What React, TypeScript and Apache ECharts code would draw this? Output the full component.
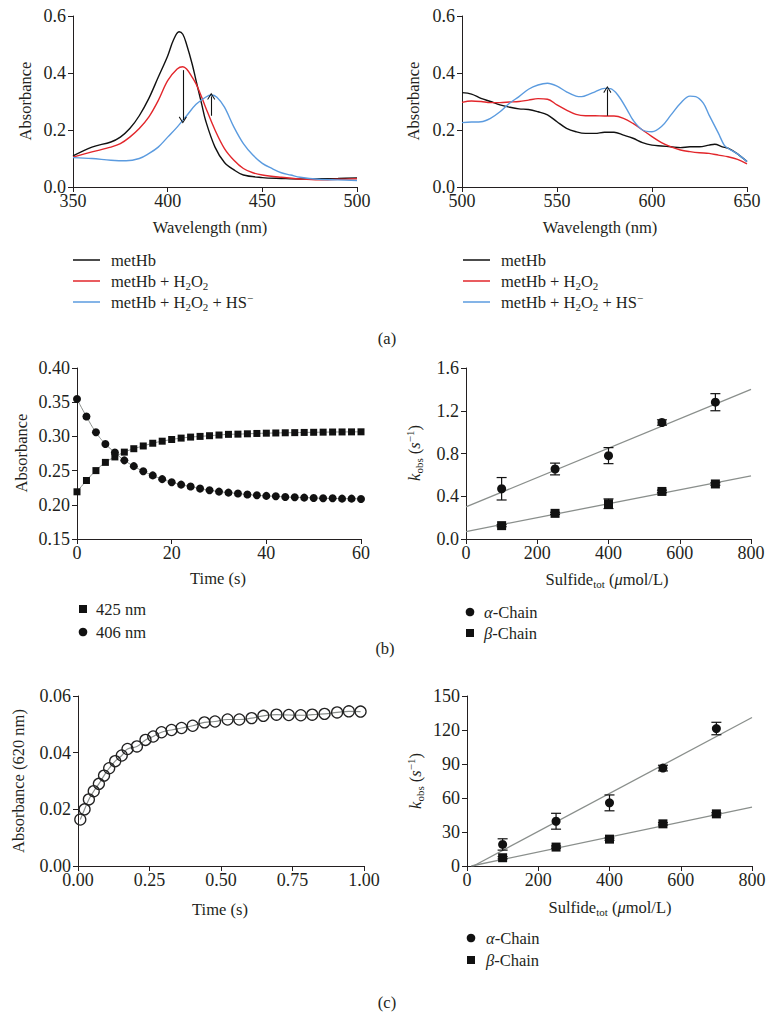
import React, { useEffect, useRef } from "react";
import * as echarts from "echarts";

const FONT = "Liberation Serif";
const INK = "#231f20";
const BLACK = "#111111";
const RED = "#e2262b";
const BLUE = "#5b9bdf";
const GRAY = "#8a8f8c";

// ---------- Panel (a) left: Soret region ----------
const metHbSoret = [[350,0.109],[360,0.14],[370,0.158],[375,0.175],[380,0.205],[385,0.25],[390,0.31],[395,0.385],[400,0.46],[403,0.515],[406,0.545],[408,0.536],[410,0.5],[413,0.43],[415,0.373],[418,0.29],[420,0.234],[425,0.14],[430,0.086],[435,0.06],[440,0.042],[450,0.033],[460,0.03],[470,0.028],[480,0.029],[490,0.03],[500,0.032]];
const h2o2Soret = [[350,0.105],[360,0.123],[370,0.14],[375,0.152],[380,0.175],[385,0.205],[390,0.245],[395,0.303],[400,0.373],[405,0.414],[408,0.422],[410,0.414],[413,0.385],[415,0.362],[418,0.315],[420,0.28],[425,0.2],[430,0.135],[435,0.094],[440,0.065],[445,0.05],[450,0.042],[460,0.034],[470,0.028],[480,0.025],[490,0.027],[500,0.029]];
const hsSoret = [[350,0.103],[360,0.1],[370,0.094],[378,0.092],[385,0.1],[390,0.117],[395,0.14],[400,0.175],[405,0.21],[410,0.25],[415,0.29],[420,0.315],[423,0.323],[426,0.315],[430,0.28],[435,0.21],[440,0.152],[445,0.112],[450,0.083],[455,0.065],[460,0.05],[465,0.042],[470,0.034],[480,0.027],[490,0.025],[500,0.023]];
const arrowsSoret = [[408, 0.41, 0.235], [423, 0.25, 0.318]];

// ---------- Panel (a) right: visible region ----------
const metHbVis = [[500,0.331],[505,0.326],[510,0.311],[515,0.3],[520,0.288],[525,0.28],[530,0.274],[535,0.272],[540,0.264],[545,0.253],[550,0.229],[555,0.206],[560,0.194],[565,0.188],[570,0.188],[575,0.192],[580,0.192],[585,0.182],[590,0.171],[595,0.156],[600,0.147],[605,0.144],[610,0.141],[615,0.138],[620,0.141],[625,0.141],[630,0.147],[633,0.15],[637,0.141],[640,0.136],[645,0.116],[650,0.089]];
const h2o2Vis = [[500,0.297],[505,0.302],[510,0.3],[515,0.296],[520,0.296],[525,0.298],[530,0.3],[535,0.305],[540,0.31],[545,0.308],[550,0.288],[555,0.27],[560,0.255],[565,0.25],[570,0.25],[575,0.249],[580,0.249],[585,0.241],[590,0.223],[595,0.2],[600,0.177],[605,0.156],[610,0.141],[615,0.13],[620,0.124],[625,0.12],[630,0.118],[635,0.112],[640,0.106],[645,0.097],[650,0.081]];
const hsVis = [[500,0.226],[505,0.228],[510,0.229],[515,0.241],[520,0.264],[525,0.294],[530,0.317],[535,0.343],[540,0.358],[545,0.364],[550,0.354],[555,0.334],[560,0.319],[563,0.317],[567,0.326],[570,0.334],[575,0.346],[578,0.345],[582,0.323],[587,0.27],[590,0.235],[595,0.2],[600,0.194],[605,0.212],[610,0.253],[615,0.294],[620,0.319],[623,0.317],[627,0.294],[630,0.253],[635,0.188],[638,0.147],[640,0.136],[645,0.116],[650,0.089]];
const arrowsVis = [[576.5, 0.25, 0.342]];

// ---------- Panel (b) left: time course ----------
const timeB = [0,2,4,6,8,10,12,14,16,18,20,22,24,26,28,30,32,34,36,38,40,42,44,46,48,50,52,54,56,58,60];
const abs425 = [0.219,0.2355,0.25,0.262,0.27,0.277,0.282,0.286,0.29,0.293,0.2955,0.2975,0.299,0.3,0.301,0.302,0.303,0.3033,0.3038,0.3043,0.3047,0.305,0.3053,0.3055,0.3058,0.306,0.3062,0.3064,0.3065,0.3066,0.3067];
const abs406 = [0.3546,0.329,0.306,0.289,0.2765,0.265,0.2565,0.249,0.243,0.2375,0.233,0.2295,0.2267,0.2237,0.2213,0.2193,0.2178,0.2164,0.215,0.214,0.213,0.2125,0.2115,0.211,0.2105,0.21,0.2096,0.2095,0.209,0.209,0.2086];

// ---------- Panel (b) right: kobs vs sulfide ----------
const sulfide = [100, 250, 400, 550, 700];
const alphaKB = [0.47, 0.655, 0.78, 1.09, 1.28];
const alphaErrB = [0.105, 0.055, 0.075, 0.025, 0.08];
const betaKB = [0.125, 0.24, 0.33, 0.445, 0.515];
const betaErrB = [0.01, 0.01, 0.045, 0.012, 0.012];
const alphaFitB = [[0, 0.3], [800, 1.4]];
const betaFitB = [[0, 0.07], [800, 0.59]];

// ---------- Panel (c) left: stopped flow 620 nm ----------
const timeC = [0.008,0.023,0.038,0.055,0.073,0.091,0.109,0.13,0.153,0.173,0.206,0.236,0.263,0.292,0.327,0.362,0.401,0.442,0.479,0.523,0.564,0.607,0.648,0.694,0.737,0.779,0.819,0.862,0.906,0.947,0.988];
const abs620 = [0.0164,0.02,0.0235,0.0264,0.029,0.0319,0.0345,0.037,0.039,0.0413,0.0422,0.0445,0.0457,0.0472,0.048,0.0487,0.0495,0.0507,0.051,0.0517,0.0517,0.0522,0.053,0.0534,0.0533,0.0532,0.0534,0.0537,0.0542,0.0546,0.0545];

// ---------- Panel (c) right: kobs vs sulfide ----------
const alphaKC = [19, 39.5, 55.7, 86.4, 121.3];
const alphaErrC = [5, 7, 7, 2.5, 5.5];
const betaKC = [7.3, 16.7, 23.7, 37.2, 46];
const betaErrC = [1, 1, 1, 1, 1];
const alphaFitC = [[18, 0], [800, 131]];
const betaFitC = [[12, 0], [800, 52]];

const CHEVRON = "path://M5,0 L10,8.5 L9,9.5 L5,2.4 L1,9.5 L0,8.5 Z";

function axisBase(gridIndex: number, min: number, max: number, interval: number, digits: number, margin: number) {
  return {
    type: "value",
    gridIndex,
    min,
    max,
    interval,
    axisLine: { show: true, onZero: false, lineStyle: { color: INK, width: 1 } },
    axisTick: { show: true, inside: false, length: 5, lineStyle: { color: INK, width: 1 } },
    splitLine: { show: false },
    axisLabel: {
      color: INK,
      fontFamily: FONT,
      fontSize: 18,
      margin,
      formatter: (v: number) => v.toFixed(digits),
    },
  };
}

function spectrum(name: string, data: number[][], color: string, idx: number, arrows?: number[][]) {
  const s: any = {
    name,
    type: "line",
    xAxisIndex: idx,
    yAxisIndex: idx,
    data,
    showSymbol: false,
    smooth: 0.35,
    lineStyle: { color, width: 1.4 },
    itemStyle: { color },
    z: 3,
  };
  if (arrows) {
    s.markLine = {
      silent: true,
      symbol: ["none", CHEVRON],
      symbolSize: [8, 7],
      label: { show: false },
      lineStyle: { color: BLACK, width: 1.1, type: "solid" },
      data: arrows.map((a) => [{ coord: [a[0], a[1]] }, { coord: [a[0], a[2]] }]),
    };
  }
  return s;
}

function errorBars(idx: number, ks: number[], errs: number[]) {
  return {
    type: "custom",
    xAxisIndex: idx,
    yAxisIndex: idx,
    data: sulfide.map((x, i) => [x, ks[i], errs[i]]),
    renderItem: (params: any, api: any) => {
      const x = api.value(0);
      const y = api.value(1);
      const e = api.value(2);
      const top = api.coord([x, y + e]);
      const bot = api.coord([x, y - e]);
      const w = 5;
      const st = { stroke: BLACK, lineWidth: 1.2 };
      return {
        type: "group",
        children: [
          { type: "line", shape: { x1: top[0], y1: top[1], x2: bot[0], y2: bot[1] }, style: st },
          { type: "line", shape: { x1: top[0] - w, y1: top[1], x2: top[0] + w, y2: top[1] }, style: st },
          { type: "line", shape: { x1: bot[0] - w, y1: bot[1], x2: bot[0] + w, y2: bot[1] }, style: st },
        ],
      };
    },
    z: 4,
  };
}

function fitLine(idx: number, data: number[][]) {
  return {
    type: "line",
    xAxisIndex: idx,
    yAxisIndex: idx,
    data,
    showSymbol: false,
    lineStyle: { color: GRAY, width: 1.3 },
    z: 2,
  };
}

function pts(idx: number, ks: number[], symbol: string, size: number) {
  return {
    type: "scatter",
    xAxisIndex: idx,
    yAxisIndex: idx,
    data: sulfide.map((x, i) => [x, ks[i]]),
    symbol,
    symbolSize: size,
    itemStyle: { color: BLACK, opacity: 1 },
    z: 5,
  };
}

const FS = 16.5;
const RICH = {
  n: { fontFamily: FONT, fontSize: FS, lineHeight: 20, color: INK },
  i: { fontFamily: FONT, fontSize: FS, lineHeight: 20, fontStyle: "italic", color: INK },
  sub: { fontFamily: FONT, fontSize: 11, lineHeight: 10, verticalAlign: "bottom", color: INK },
  sup: { fontFamily: FONT, fontSize: 11, lineHeight: 10, verticalAlign: "top", color: INK },
};

function txt(x: number, y: number, text: string, align = "center", rotate = false) {
  return {
    type: "text",
    x,
    y,
    rotation: rotate ? Math.PI / 2 : 0,
    silent: true,
    style: {
      text,
      rich: RICH,
      fontFamily: FONT,
      fontSize: FS,
      fill: INK,
      align,
      verticalAlign: "middle",
    },
  };
}

function legendLine(x: number, y: number, color: string, label: string) {
  return [
    { type: "line", silent: true, shape: { x1: x, y1: y, x2: x + 27, y2: y }, style: { stroke: color, lineWidth: 1.5 } },
    txt(x + 38, y, label, "left"),
  ];
}

function legendSym(x: number, y: number, kind: string, label: string, tx: number) {
  const sym =
    kind === "circle"
      ? { type: "circle", silent: true, shape: { cx: x, cy: y, r: 4.3 }, style: { fill: BLACK } }
      : { type: "rect", silent: true, shape: { x: x - 4, y: y - 4, width: 8, height: 8 }, style: { fill: BLACK } };
  return [sym, txt(tx, y, label, "left")];
}

const L1 = "{n|metHb}";
const L2 = "{n|metHb + H}{sub|2}{n|O}{sub|2}";
const L3 = "{n|metHb + H}{sub|2}{n|O}{sub|2}{n| + HS}{sup|−}";
const KOBS = "{i|k}{sub|obs}{n| (}{i|s}{sup|−1}{n|)}";
const SULF = "{n|Sulfide}{sub|tot}{n| (}{i|μ}{n|mol/L)}";
const ALPHA = "{i|α}{n|-Chain}";
const BETA = "{i|β}{n|-Chain}";

export default function App() {
  const ref = useRef<HTMLDivElement>(null);
  useEffect(() => {
    document.body.style.margin = "0";
    if (!ref.current) return;
    const chart = echarts.init(ref.current, undefined, { renderer: "svg" });
    const option: any = {
      animation: false,
      backgroundColor: "#ffffff",
      textStyle: { fontFamily: FONT },
      grid: [
        { left: 73, top: 16, width: 284, height: 171 },
        { left: 462, top: 16, width: 285, height: 171 },
        { left: 77, top: 368, width: 284, height: 171 },
        { left: 466, top: 368, width: 285, height: 171 },
        { left: 78, top: 696, width: 286, height: 170 },
        { left: 467, top: 696, width: 285, height: 170 },
      ],
      xAxis: [
        axisBase(0, 350, 500, 50, 0, 5),
        axisBase(1, 500, 650, 50, 0, 5),
        axisBase(2, 0, 60, 20, 0, 5),
        axisBase(3, 0, 800, 200, 0, 5),
        axisBase(4, 0, 1, 0.25, 2, 5),
        axisBase(5, 0, 800, 200, 0, 5),
      ],
      yAxis: [
        axisBase(0, 0, 0.6, 0.2, 1, 7),
        axisBase(1, 0, 0.6, 0.2, 1, 7),
        axisBase(2, 0.15, 0.4, 0.05, 2, 7),
        axisBase(3, 0, 1.6, 0.4, 1, 7),
        axisBase(4, 0, 0.06, 0.02, 2, 7),
        axisBase(5, 0, 150, 30, 0, 7),
      ],
      series: [
        spectrum("metHb", metHbSoret, BLACK, 0, arrowsSoret),
        spectrum("metHb + H2O2", h2o2Soret, RED, 0),
        spectrum("metHb + H2O2 + HS-", hsSoret, BLUE, 0),
        spectrum("metHb", metHbVis, BLACK, 1, arrowsVis),
        spectrum("metHb + H2O2", h2o2Vis, RED, 1),
        spectrum("metHb + H2O2 + HS-", hsVis, BLUE, 1),
        {
          name: "425 nm",
          type: "line",
          xAxisIndex: 2,
          yAxisIndex: 2,
          data: timeB.map((t, i) => [t, abs425[i]]),
          symbol: "rect",
          symbolSize: 7,
          showSymbol: true,
          smooth: true,
          lineStyle: { color: GRAY, width: 1 },
          itemStyle: { color: BLACK },
        },
        {
          name: "406 nm",
          type: "line",
          xAxisIndex: 2,
          yAxisIndex: 2,
          data: timeB.map((t, i) => [t, abs406[i]]),
          symbol: "circle",
          symbolSize: 8,
          showSymbol: true,
          smooth: true,
          lineStyle: { color: GRAY, width: 1 },
          itemStyle: { color: BLACK },
        },
        fitLine(3, alphaFitB),
        fitLine(3, betaFitB),
        errorBars(3, alphaKB, alphaErrB),
        errorBars(3, betaKB, betaErrB),
        pts(3, alphaKB, "circle", 9),
        pts(3, betaKB, "rect", 9),
        {
          name: "620 nm",
          type: "line",
          xAxisIndex: 4,
          yAxisIndex: 4,
          data: timeC.map((t, i) => [t, abs620[i]]),
          symbol: "circle",
          symbolSize: 11,
          showSymbol: true,
          smooth: true,
          lineStyle: { color: GRAY, width: 1.2 },
          itemStyle: { color: "rgba(255,255,255,0)", borderColor: "#222222", borderWidth: 1.3 },
        },
        fitLine(5, alphaFitC),
        fitLine(5, betaFitC),
        errorBars(5, alphaKC, alphaErrC),
        errorBars(5, betaKC, betaErrC),
        pts(5, alphaKC, "circle", 9),
        pts(5, betaKC, "rect", 9),
      ],
      graphic: [
        // axis titles (a)
        txt(25, 101, "{n|Absorbance}", "center", true),
        txt(413, 101, "{n|Absorbance}", "center", true),
        txt(210, 227, "{n|Wavelength (nm)}"),
        txt(600, 227, "{n|Wavelength (nm)}"),
        ...legendLine(73, 260, BLACK, L1),
        ...legendLine(73, 281, RED, L2),
        ...legendLine(73, 302, BLUE, L3),
        ...legendLine(463, 260, BLACK, L1),
        ...legendLine(463, 281, RED, L2),
        ...legendLine(463, 302, BLUE, L3),
        txt(387, 338, "{n|(a)}"),
        // (b)
        txt(21, 453, "{n|Absorbance}", "center", true),
        txt(414, 453, KOBS, "center", true),
        txt(218, 578, "{n|Time (s)}"),
        txt(607, 579, SULF),
        ...legendSym(83, 609, "rect", "{n|425 nm}", 96),
        ...legendSym(83, 632, "circle", "{n|406 nm}", 96),
        ...legendSym(470, 612, "circle", ALPHA, 484),
        ...legendSym(470, 633, "rect", BETA, 484),
        txt(385, 648, "{n|(b)}"),
        // (c)
        txt(18, 781, "{n|Absorbance (620 nm)}", "center", true),
        txt(415, 781, KOBS, "center", true),
        txt(220, 909, "{n|Time (s)}"),
        txt(610, 907, SULF),
        ...legendSym(471, 938, "circle", ALPHA, 486),
        ...legendSym(471, 960, "rect", BETA, 486),
        txt(387, 1002, "{n|(c)}"),
      ],
    };
    chart.setOption(option);
    return () => chart.dispose();
  }, []);
  return <div ref={ref} style={{ width: 774, height: 1025 }} />;
}
